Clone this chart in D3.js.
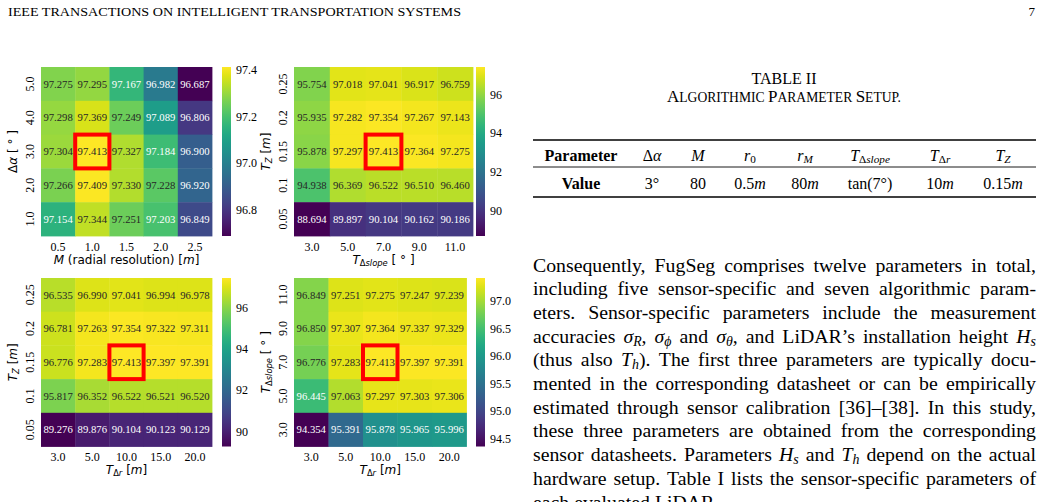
<!DOCTYPE html>
<html lang="en">
<head>
<meta charset="utf-8">
<title>FugSeg parameter sweep</title>
<script src="https://d3js.org/d3.v7.min.js"></script>
<style>
  body { margin: 0; background: #fff; }
  svg { display: block; }
</style>
</head>
<body>
<div id="page"></div>
<script>

// tick labels (rows are listed top to bottom, as drawn)
var m_cols = ["0.5", "1.0", "1.5", "2.0", "2.5"];
var dalpha_rows = ["5.0", "4.0", "3.0", "2.0", "1.0"];
var slope_cols = ["3.0", "5.0", "7.0", "9.0", "11.0"];
var slope_rows = ["11.0", "9.0", "7.0", "5.0", "3.0"];
var tz_rows = ["0.25", "0.2", "0.15", "0.1", "0.05"];
var dr_cols = ["3.0", "5.0", "10.0", "15.0", "20.0"];

// accuracy values per cell
var acc_alpha_m = [
  [97.275, 97.295, 97.167, 96.982, 96.687],
  [97.298, 97.369, 97.249, 97.089, 96.806],
  [97.304, 97.413, 97.327, 97.184, 96.900],
  [97.266, 97.409, 97.330, 97.228, 96.920],
  [97.154, 97.344, 97.251, 97.203, 96.849]
];
var acc_tz_slope = [
  [95.754, 97.018, 97.041, 96.917, 96.759],
  [95.935, 97.282, 97.354, 97.267, 97.143],
  [95.878, 97.297, 97.413, 97.364, 97.275],
  [94.938, 96.369, 96.522, 96.510, 96.460],
  [88.694, 89.897, 90.104, 90.162, 90.186]
];
var acc_tz_dr = [
  [96.535, 96.990, 97.041, 96.994, 96.978],
  [96.781, 97.263, 97.354, 97.322, 97.311],
  [96.776, 97.283, 97.413, 97.397, 97.391],
  [95.817, 96.352, 96.522, 96.521, 96.520],
  [89.276, 89.876, 90.104, 90.123, 90.129]
];
var acc_slope_dr = [
  [96.849, 97.251, 97.275, 97.247, 97.239],
  [96.850, 97.307, 97.364, 97.337, 97.329],
  [96.776, 97.283, 97.413, 97.397, 97.391],
  [96.445, 97.063, 97.297, 97.303, 97.306],
  [94.354, 95.391, 95.878, 95.965, 95.996]
];

// colorbar tick labels
var cb_alpha_m = ["97.4", "97.2", "97.0", "96.8"];
var cb_tz_slope = ["96", "94", "92", "90"];
var cb_tz_dr = ["96", "94", "92", "90"];
var cb_slope_dr = ["97.0", "96.5", "96.0", "95.5", "95.0", "94.5"];

// chosen setting: [column, row]
var best = [2, 2];
var best_alpha_m = [1, 2];

// table II
var tab_head = ["Parameter", "Δ{α}", "{M}", "{r}_(0)", "{r}_{M}", "{T}_(Δ)_{slope}", "{T}_(Δ)_{r}", "{T}_{Z}"];
var tab_vals = ["Value", "3°", "80", "0.5{m}", "80{m}", "tan(7°)", "10{m}", "0.15{m}"];

// body text, one entry per printed line
var para = [
  "Consequently, FugSeg comprises twelve parameters in total,",
  "including five sensor-specific and seven algorithmic param-",
  "eters. Sensor-specific parameters include the measurement",
  "accuracies {σ}_{R}, {σ}_{ϕ} and {σ}_{θ}, and LiDAR’s installation height {H}_{s}",
  "(thus also {T}_{h}). The first three parameters are typically docu-",
  "mented in the corresponding datasheet or can be empirically",
  "estimated through sensor calibration [36]–[38]. In this study,",
  "these three parameters are obtained from the corresponding",
  "sensor datasheets. Parameters {H}_{s} and {T}_{h} depend on the actual",
  "hardware setup. Table I lists the sensor-specific parameters of",
  "each evaluated LiDAR."
];

var W = 1048, H = 502;
var serif = "Liberation Serif, Times New Roman, serif";
var sans = "DejaVu Sans, sans-serif";

var svg = d3.select("#page").append("svg")
  .attr("width", W)
  .attr("height", H)
  .style("background", "#fff");

// tiny markup: {x} italic, _{x} italic subscript, _(x) upright subscript
function rich(t, str, size, drop) {
  drop = drop || 0.22;
  var toks = str.match(/(_\{[^}]*\}|_\([^)]*\)|\{[^}]*\}|[^_{]+)/g) || [];
  var shift = 0;
  toks.forEach(function (tok) {
    var txt = tok, it = false, sub = false;
    if (tok[0] == "_") { sub = true; it = tok[1] == "{"; txt = tok.slice(2, -1); }
    else if (tok[0] == "{") { it = true; txt = tok.slice(1, -1); }
    var want = sub ? size * drop : 0;
    var ts = t.append("tspan").text(txt);
    if (want - shift != 0) ts.attr("dy", want - shift);
    shift = want;
    if (it) ts.style("font-style", "italic");
    if (sub) ts.style("font-size", (size * 0.7) + "px");
  });
  return t;
}

function lum(c) {
  var r = d3.rgb(c);
  var f = function (v) { v /= 255; return v <= 0.03928 ? v / 12.92 : Math.pow((v + 0.055) / 1.055, 2.4); };
  return 0.2126 * f(r.r) + 0.7152 * f(r.g) + 0.0722 * f(r.b);
}

// ---- page header
svg.append("text")
  .attr("x", 8).attr("y", 16)
  .attr("textLength", 453).attr("lengthAdjust", "spacingAndGlyphs")
  .style("font-family", serif).style("font-size", "12.5px")
  .text("IEEE TRANSACTIONS ON INTELLIGENT TRANSPORTATION SYSTEMS");
svg.append("text")
  .attr("x", 1035).attr("y", 16).attr("text-anchor", "end")
  .style("font-family", serif).style("font-size", "13px")
  .text("7");

// ---- heatmaps
var panels = [
  { vals: acc_alpha_m, cols: m_cols, rows: dalpha_rows, cb: cb_alpha_m, pick: best_alpha_m,
    x0: 41, x1: 212, y0: 67, y1: 236, cbx: 222,
    xlab: "{M} (radial resolution) [{m}]", ylab: "Δ{α} [ ° ]" },
  { vals: acc_tz_slope, cols: slope_cols, rows: tz_rows, cb: cb_tz_slope, pick: best,
    x0: 294, x1: 473, y0: 67, y1: 236, cbx: 476,
    xlab: "{T}_(Δ)_{slope} [ ° ]", ylab: "{T}_{Z} [{m}]" },
  { vals: acc_tz_dr, cols: dr_cols, rows: tz_rows, cb: cb_tz_dr, pick: best,
    x0: 41, x1: 212, y0: 278, y1: 446.5, cbx: 222,
    xlab: "{T}_(Δ)_{r} [{m}]", ylab: "{T}_{Z} [{m}]" },
  { vals: acc_slope_dr, cols: dr_cols, rows: slope_rows, cb: cb_slope_dr, pick: best,
    x0: 294, x1: 466.5, y0: 278, y1: 446.5, cbx: 476,
    xlab: "{T}_(Δ)_{r} [{m}]", ylab: "{T}_(Δ)_{slope} [ ° ]" }
];

var defs = svg.append("defs");
var gradId = "viridis-grad";
var grad = defs.append("linearGradient").attr("id", gradId)
  .attr("x1", 0).attr("y1", 1).attr("x2", 0).attr("y2", 0);
d3.range(0, 1.0001, 0.05).forEach(function (t) {
  grad.append("stop").attr("offset", t).attr("stop-color", d3.interpolateViridis(t));
});

panels.forEach(function (p) {
  var g = svg.append("g");
  var x = d3.scaleBand().domain(p.cols).range([p.x0, p.x1]);
  var y = d3.scaleBand().domain(p.rows).range([p.y0, p.y1]);
  var flat = [];
  p.vals.forEach(function (row, i) {
    row.forEach(function (v, j) { flat.push({ r: p.rows[i], c: p.cols[j], v: v }); });
  });
  var ext = d3.extent(flat, function (d) { return d.v; });
  var color = d3.scaleSequential(d3.interpolateViridis).domain(ext);

  g.selectAll("rect.cell").data(flat).enter().append("rect")
    .attr("class", "cell")
    .attr("x", function (d) { return x(d.c); })
    .attr("y", function (d) { return y(d.r); })
    .attr("width", x.bandwidth() + 0.4)
    .attr("height", y.bandwidth() + 0.4)
    .attr("fill", function (d) { return color(d.v); });

  g.selectAll("text.annot").data(flat).enter().append("text")
    .attr("class", "annot")
    .attr("x", function (d) { return x(d.c) + x.bandwidth() / 2; })
    .attr("y", function (d) { return y(d.r) + y.bandwidth() / 2; })
    .attr("dy", "0.35em")
    .attr("text-anchor", "middle")
    .style("font-family", serif).style("font-size", "10.7px")
    .attr("fill", function (d) { return lum(color(d.v)) > 0.408 ? "#262626" : "#fff"; })
    .text(function (d) { return d3.format(".3f")(d.v); });

  // highlight of the chosen setting
  g.append("rect")
    .attr("x", x(p.cols[p.pick[0]]))
    .attr("y", y(p.rows[p.pick[1]]))
    .attr("width", x.bandwidth())
    .attr("height", y.bandwidth())
    .attr("fill", "none")
    .attr("stroke", "#ff0000")
    .attr("stroke-width", 4);

  // axes
  var xa = g.append("g").attr("transform", "translate(0," + p.y1 + ")")
    .call(d3.axisBottom(x).tickSize(0).tickPadding(6));
  xa.select(".domain").remove();
  xa.selectAll("text").style("font-family", serif).style("font-size", "12px").attr("fill", "#000");

  var ya = g.append("g").attr("transform", "translate(" + p.x0 + ",0)")
    .call(d3.axisLeft(y).tickSize(0));
  ya.select(".domain").remove();
  ya.selectAll("text")
    .attr("x", 0).attr("y", -7).attr("dy", 0)
    .attr("text-anchor", "middle")
    .attr("transform", "rotate(-90)")
    .style("font-family", serif).style("font-size", "12px").attr("fill", "#000");

  rich(g.append("text")
    .attr("x", (p.x0 + p.x1) / 2).attr("y", p.y1 + 27.5)
    .attr("text-anchor", "middle")
    .style("font-family", sans).style("font-size", "12px"), p.xlab, 12, 0.2);

  rich(g.append("text")
    .attr("transform", "translate(" + (p.x0 - 24) + "," + ((p.y0 + p.y1) / 2) + ") rotate(-90)")
    .attr("text-anchor", "middle")
    .style("font-family", sans).style("font-size", "12px"), p.ylab, 12, 0.2);

  // colorbar
  var cy = d3.scaleLinear().domain(ext).range([p.y1, p.y0]);
  g.append("rect")
    .attr("x", p.cbx).attr("y", p.y0)
    .attr("width", 9).attr("height", p.y1 - p.y0)
    .attr("fill", "url(#" + gradId + ")");
  var ca = g.append("g").attr("transform", "translate(" + (p.cbx + 9) + ",0)")
    .call(d3.axisRight(cy)
      .tickValues(p.cb.map(Number))
      .tickFormat(function (v, i) { return p.cb[i]; })
      .tickSize(0).tickPadding(5));
  ca.select(".domain").remove();
  ca.selectAll("text").style("font-family", serif).style("font-size", "12px").attr("fill", "#000");
});

// ---- table II
var tab = svg.append("g").style("font-family", serif);
var tabL = 533, tabR = 1036;
var tab_cx = [581, 652, 698, 750, 805, 870, 940, 1003];

tab.append("text").attr("x", 784).attr("y", 83.5).attr("text-anchor", "middle")
  .style("font-size", "16px").text("TABLE II");
var cap = tab.append("text").attr("x", 784).attr("y", 101.5).attr("text-anchor", "middle");
[["A", 17], ["LGORITHMIC ", 13.6], ["P", 17], ["ARAMETER ", 13.6], ["S", 17], ["ETUP.", 13.6]]
  .forEach(function (s) { cap.append("tspan").style("font-size", s[1] + "px").text(s[0]); });

tab.append("line").attr("x1", tabL).attr("x2", tabR).attr("y1", 140).attr("y2", 140)
  .attr("stroke", "#000").attr("stroke-width", 1.6);
tab.append("line").attr("x1", tabL).attr("x2", tabR).attr("y1", 167).attr("y2", 167)
  .attr("stroke", "#000").attr("stroke-width", 0.9);
tab.append("line").attr("x1", tabL).attr("x2", tabR).attr("y1", 197).attr("y2", 197)
  .attr("stroke", "#000").attr("stroke-width", 1.6);

[[tab_head, 161], [tab_vals, 188.5]].forEach(function (r) {
  r[0].forEach(function (s, i) {
    var t = tab.append("text").attr("x", tab_cx[i]).attr("y", r[1])
      .attr("text-anchor", "middle").style("font-size", "16px");
    if (i == 0) t.style("font-weight", "bold");
    rich(t, s, 16, 0.15);
  });
});

// ---- justified body text
var body = svg.append("g").style("font-family", serif).style("font-size", "19.8px");
var fs = 19.8, lead = 23.7, base = 271.5;
para.forEach(function (line, i) {
  var words = line.split(" ");
  var nodes = words.map(function (w) {
    return rich(body.append("text").attr("y", base + i * lead), w, fs, 0.15);
  });
  var widths = nodes.map(function (n) { return n.node().getComputedTextLength(); });
  var total = d3.sum(widths);
  var gap = i < para.length - 1 ? (tabR - tabL - total) / (words.length - 1) : fs * 0.25;
  var xx = tabL;
  nodes.forEach(function (n, j) { n.attr("x", xx); xx += widths[j] + gap; });
});

</script>
</body>
</html>
